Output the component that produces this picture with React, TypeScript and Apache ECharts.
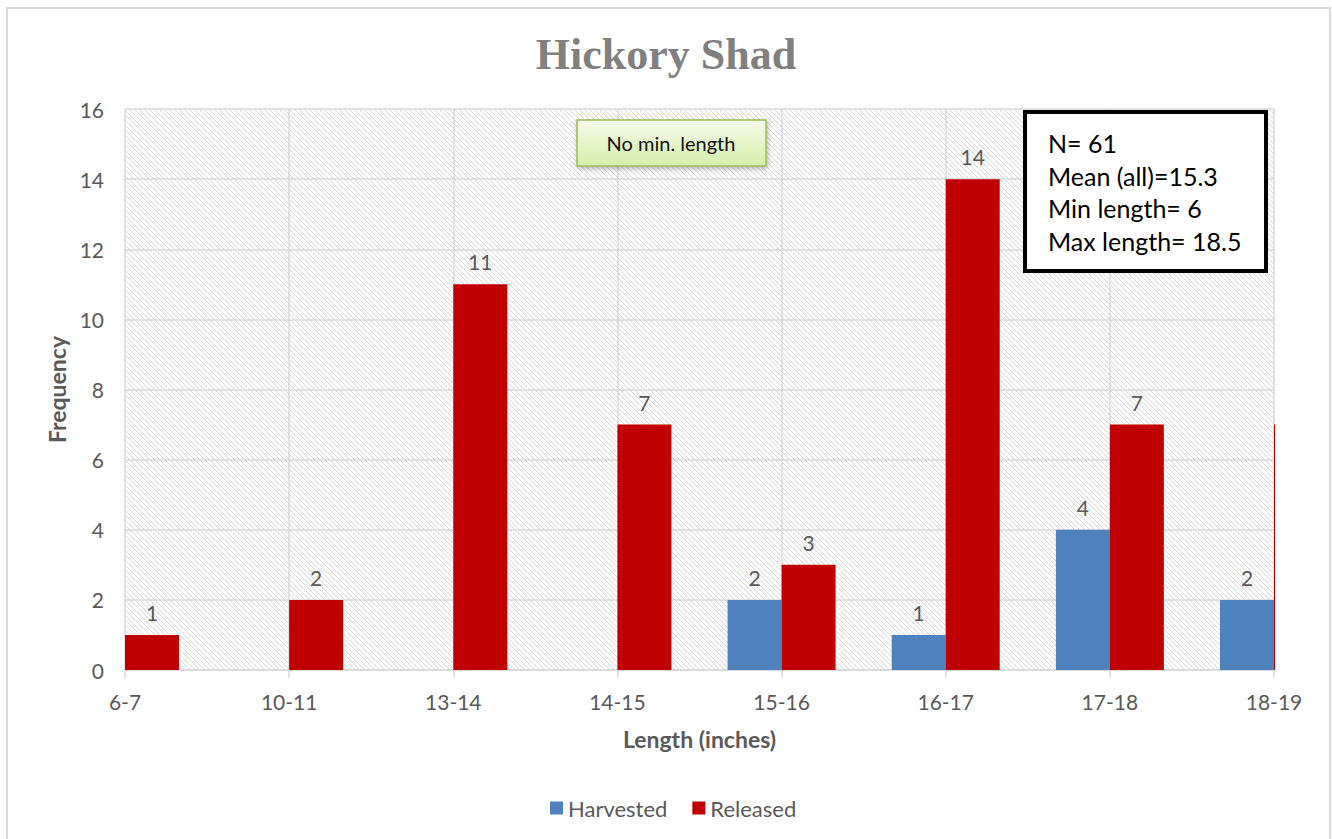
import React, { useEffect, useRef } from "react";
import * as echarts from "echarts";

const titleText = "Hickory Shad";
const categories = ["6-7", "10-11", "13-14", "14-15", "15-16", "16-17", "17-18", "18-19"];
const harvested = [0, 0, 0, 0, 2, 1, 4, 2];
const released = [1, 2, 11, 7, 3, 14, 7, 7];
const hiddenReleasedLabel = [7]; // bar falls outside the plot edge, label not shown
const yMin = 0;
const yMax = 16;
const yInterval = 2;
const statsLines = ["N= 61", "Mean (all)=15.3", "Min length= 6", "Max length= 18.5"];
const noteText = "No min. length";
const seriesNames = ["Harvested", "Released"];
const xName = "Length (inches)";
const yName = "Frequency";

const FONT = "Lato, 'Open Sans', sans-serif";
const GRID_COLOR = "#d9d9d9";
const TEXT_COLOR = "#595959";

const GRID_LEFT = 125;
const GRID_RIGHT = 58;
const GRID_TOP = 109;
const GRID_BOTTOM = 169;
const W = 1332;
const H = 839;

const hatchSvg =
  "<svg xmlns='http://www.w3.org/2000/svg' width='5' height='5'>" +
  "<path d='M-1 -1L6 6M-1 4L1 6M4 -1L6 1' stroke='#d2d2d2' stroke-width='0.9' fill='none'/></svg>";
const hatchUrl = "data:image/svg+xml;charset=utf-8," + encodeURIComponent(hatchSvg);

export default function App() {
  const ref = useRef<HTMLDivElement>(null);

  useEffect(() => {
    if (!ref.current) return;
    const chart = echarts.init(ref.current, null, { renderer: "svg" });

    const labelFmt = (p: any) => (p.value > 0 ? String(p.value) : "");
    const releasedData = released.map((v, i) =>
      hiddenReleasedLabel.includes(i) ? { value: v, label: { show: false } } : v
    );

    const plotRight = W - GRID_RIGHT;

    const option: any = {
      animation: false,
      backgroundColor: "#ffffff",
      title: {
        text: titleText,
        left: "center",
        top: 27,
        textStyle: {
          fontFamily: "'Liberation Serif', 'DejaVu Serif', serif",
          fontWeight: "bold",
          fontSize: 44,
          color: "#808080",
        },
      },
      legend: {
        data: seriesNames,
        left: 550,
        top: 797,
        padding: 0,
        icon: "rect",
        itemWidth: 13,
        itemHeight: 13,
        itemGap: 25,
        textStyle: { fontFamily: FONT, fontSize: 22, color: TEXT_COLOR },
      },
      grid: {
        left: GRID_LEFT,
        right: GRID_RIGHT,
        top: GRID_TOP,
        bottom: GRID_BOTTOM,
        show: true,
        borderWidth: 0,
        backgroundColor: {
          image: hatchUrl,
          repeat: "repeat",
          imageWidth: 5,
          imageHeight: 5,
        },
      },
      xAxis: {
        type: "category",
        data: categories,
        boundaryGap: false,
        name: xName,
        nameLocation: "middle",
        nameGap: 57,
        nameTextStyle: { fontFamily: FONT, fontSize: 23, fontWeight: "bold", color: TEXT_COLOR },
        axisLine: { show: true, lineStyle: { color: GRID_COLOR, width: 1.5 } },
        axisTick: { show: true, length: 8, alignWithLabel: true, lineStyle: { color: GRID_COLOR, width: 1.5 } },
        axisLabel: { fontFamily: FONT, fontSize: 21, color: TEXT_COLOR, margin: 21, interval: 0 },
        splitLine: { show: true, lineStyle: { color: GRID_COLOR, width: 1.5 } },
      },
      yAxis: {
        type: "value",
        min: yMin,
        max: yMax,
        interval: yInterval,
        name: yName,
        nameLocation: "middle",
        nameGap: 55,
        nameTextStyle: { fontFamily: FONT, fontSize: 23, fontWeight: "bold", color: TEXT_COLOR },
        axisLine: { show: false },
        axisTick: { show: false },
        axisLabel: { fontFamily: FONT, fontSize: 21, color: TEXT_COLOR, margin: 21 },
        splitLine: { show: true, lineStyle: { color: GRID_COLOR, width: 1.5 } },
      },
      series: [
        {
          name: seriesNames[0],
          type: "bar",
          data: harvested,
          barWidth: 54,
          barGap: "0%",
          clip: true,
          itemStyle: { color: "#4f81bd" },
          label: {
            show: true,
            position: "top",
            distance: 12,
            formatter: labelFmt,
            fontFamily: FONT,
            fontSize: 21,
            color: TEXT_COLOR,
          },
        },
        {
          name: seriesNames[1],
          type: "bar",
          data: releasedData,
          barWidth: 54,
          barGap: "0%",
          clip: true,
          itemStyle: { color: "#c00000" },
          label: {
            show: true,
            position: "top",
            distance: 12,
            formatter: labelFmt,
            fontFamily: FONT,
            fontSize: 21,
            color: TEXT_COLOR,
          },
        },
      ],
      graphic: [
        // mask: the plot area ends at the last category, bars beyond it are cut off
        {
          type: "rect",
          silent: true,
          z: 5,
          shape: { x: plotRight + 1, y: GRID_TOP - 2, width: W - plotRight - 4, height: H - GRID_BOTTOM - GRID_TOP + 4 },
          style: { fill: "#ffffff" },
        },
        {
          type: "rect",
          silent: true,
          z: 6,
          shape: { x: 7, y: 8, width: 1323, height: 860 },
          style: { fill: "none", stroke: GRID_COLOR, lineWidth: 2 },
        },
        {
          type: "rect",
          z: 10,
          shape: { x: 577, y: 120, width: 189, height: 46 },
          style: {
            fill: {
              type: "linear",
              x: 0,
              y: 0,
              x2: 0,
              y2: 1,
              colorStops: [
                { offset: 0, color: "#f5fbe8" },
                { offset: 1, color: "#d5eeaa" },
              ],
            },
            stroke: "#9bbb59",
            lineWidth: 1.5,
            shadowBlur: 5,
            shadowOffsetX: 1,
            shadowOffsetY: 2,
            shadowColor: "rgba(0,0,0,0.3)",
          },
        },
        {
          type: "text",
          z: 11,
          x: 671,
          y: 143,
          style: {
            text: noteText,
            font: "20px " + FONT,
            fill: "#111111",
            align: "center",
            verticalAlign: "middle",
          },
        },
        {
          type: "rect",
          z: 10,
          shape: { x: 1025, y: 112, width: 241, height: 159 },
          style: { fill: "#ffffff", stroke: "#000000", lineWidth: 4 },
        },
        {
          type: "text",
          z: 11,
          x: 1048,
          y: 127,
          style: {
            text: statsLines.join("\n"),
            font: "25px " + FONT,
            lineHeight: 32.5,
            fill: "#000000",
            align: "left",
            verticalAlign: "top",
          },
        },
      ],
    };

    chart.setOption(option);
    return () => chart.dispose();
  }, []);

  return (
    <div
      ref={ref}
      style={{ position: "absolute", left: 0, top: 0, width: W, height: H }}
    />
  );
}
